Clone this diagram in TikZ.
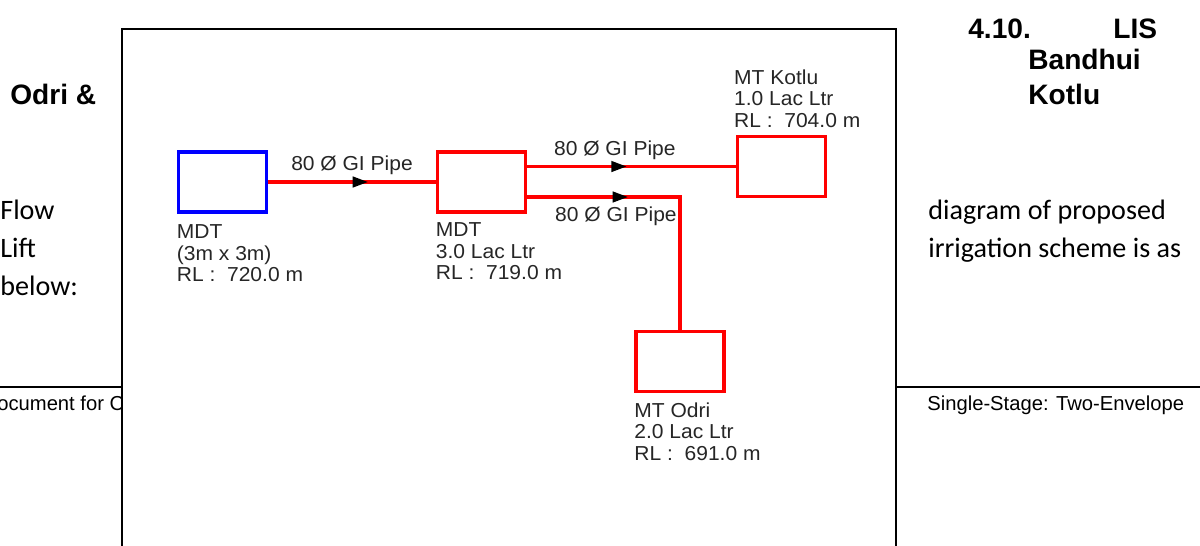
\documentclass[tikz,border=0pt]{standalone}
\usepackage{fontspec}
\setmainfont{Liberation Sans}
\newfontfamily\bodyfont{Carlito}
\newfontfamily\diagfont[FakeStretch=1.04]{Liberation Sans}
\usetikzlibrary{arrows.meta, decorations.markings}

\tikzset{
  tank/.style={draw, line width=2.2pt, minimum width=1.76cm, minimum height=1.2cm, inner sep=0pt},
  pipe/.style={draw=red, line width=2.2pt},
  flowmark/.style={postaction={decorate, decoration={markings, mark=at position #1 with {\arrow[black]{Triangle[length=0.32cm, width=0.2cm]}}}}},
  tanklabel/.style={font=\diagfont\fontsize{11.5}{12.2}\selectfont, text=black!85, align=left, inner sep=0pt},
  pipelabel/.style={font=\diagfont\fontsize{11.5}{12.2}\selectfont, text=black!85, inner sep=1pt},
  heading/.style={font=\fontsize{16}{19}\selectfont\bfseries, inner sep=0pt, anchor=base west},
  bodytext/.style={font=\bodyfont\fontsize{16}{19}\selectfont, inner sep=0pt, anchor=base west},
  foottext/.style={font=\fontsize{11.5}{14}\selectfont, inner sep=0pt, anchor=base west}
}

\begin{document}
\begin{tikzpicture}[x=0.02cm, y=-0.02cm]
  \useasboundingbox (0,0) rectangle (1200,545);
  % page text behind the drawing
  \node[heading] (secnum) at (968,38) {4.10.};
  \node[heading] (seclis) at (1113,38) {LIS};
  \node[heading] (secbandhui) at (1028,69) {Bandhui};
  \node[heading] (seckotlu) at (1028,104) {Kotlu};
  \node[heading] (secodri) at (10,104) {Odri \&};
  \node[bodytext] (flow) at (0,219) {Flow};
  \node[bodytext] (lift) at (0,257) {Lift};
  \node[bodytext] (below) at (0,295) {below:};
  \node[bodytext] (diagram) at (928,219) {diagram of proposed};
  \node[bodytext] (irrigation) at (928,257) {irrigation scheme is as};
  \draw[line width=0.8pt] (0,387) -- (1200,387);
  \node[foottext] (footleft) at (-3,410) {ocument for C};
  \node[foottext] (footright) at (927,410) {Single-Stage: Two-Envelope};
  % drawing frame
  \draw[line width=1.1pt, fill=white] (122,29) rectangle (896,560);
  % tanks
  \node[tank, draw=blue] (mdtsrc) at (222.5,182) {};
  \node[tank, draw=red] (mdt) at (481.5,182) {};
  \node[tank, draw=red] (kotlu) at (781.5,166.5) {};
  \node[tank, draw=red] (odri) at (680,361.5) {};
  \node[tanklabel, anchor=north west] (mdtsrclabel) at ([yshift=-6pt]mdtsrc.south west) {MDT\\(3m x 3m)\\RL :~ 720.0 m};
  \node[tanklabel, anchor=north west] (mdtlabel) at ([yshift=-5pt]mdt.south west) {MDT\\3.0 Lac Ltr\\RL :~ 719.0 m};
  \node[tanklabel, anchor=south west] (kotlulabel) at ([xshift=-1pt, yshift=4pt]kotlu.north west) {MT Kotlu\\1.0 Lac Ltr\\RL :~ 704.0 m};
  \node[tanklabel, anchor=north west] (odrilabel) at ([yshift=-5pt]odri.south west) {MT Odri\\2.0 Lac Ltr\\RL :~ 691.0 m};
  % pipes
  \draw[pipe, flowmark=0.6] (mdtsrc) -- (mdt) node[pipelabel, midway, above=2pt] {80 Ø GI Pipe};
  \draw[pipe, flowmark=0.48] (mdt.east |- kotlu.west) -- (kotlu.west) node[pipelabel, pos=0.42, above=2pt] {80 Ø GI Pipe};
  \draw[pipe, flowmark=0.355] ([yshift=-0.3cm]mdt.east) -| (odri.north) node[pipelabel, pos=0.29, below=3.5pt] {80 Ø GI Pipe};
\end{tikzpicture}
\end{document}
